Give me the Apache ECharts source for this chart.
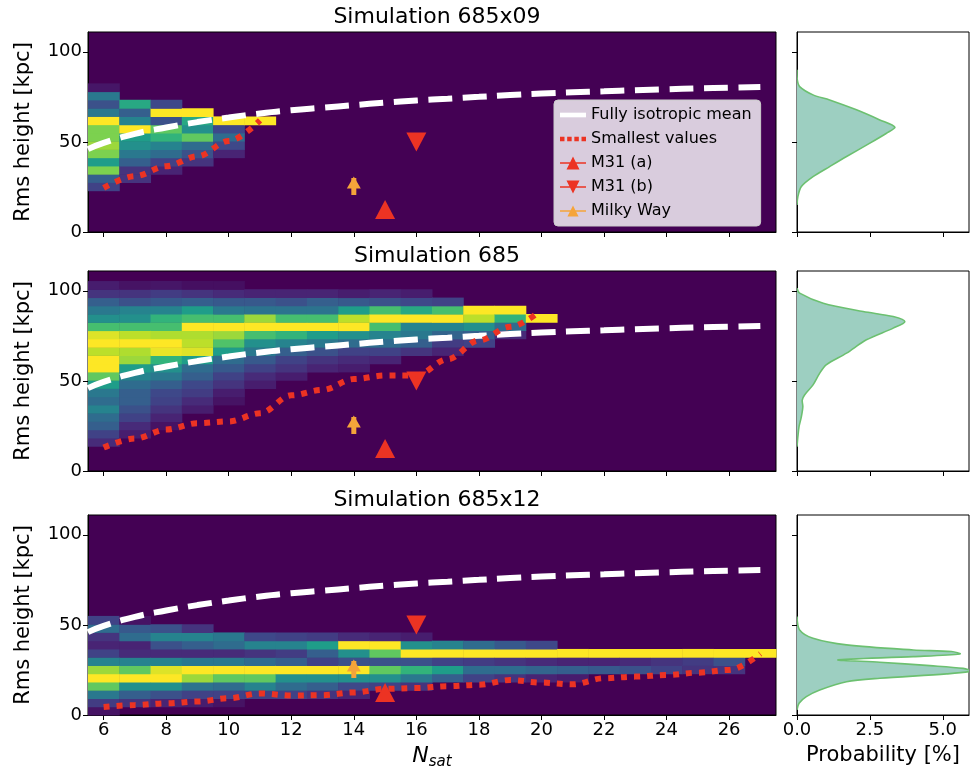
<!DOCTYPE html>
<html>
<head>
<meta charset="utf-8">
<script src="https://cdn.jsdelivr.net/npm/echarts@6/dist/echarts.min.js"></script>
<style>
  html, body { margin: 0; padding: 0; background: #fff; }
  #chart { width: 972px; height: 776px; }
</style>
</head>
<body>
<div id="chart"></div>
<script>
// ---- data ----
const titles = ['Simulation 685x09', 'Simulation 685', 'Simulation 685x12']
const nSatTicks = [6, 8, 10, 12, 14, 16, 18, 20, 22, 24, 26]
const heightTicks = [0, 50, 100]
const probTicks = [0, 2.5, 5]
const BIN_KPC = 110 / 24   // height bin width of the histograms

// isotropic mean (same curve in every panel)
const isoNSat = [5.5, 6, 7, 8, 9, 10, 11, 12, 13, 14, 15, 16, 17, 18, 19, 20, 21, 22, 23, 24, 25, 26, 27]
const isoMean = [46, 49.5, 54.5, 58, 61, 63.5, 65.8, 67.6, 69, 70.4, 71.8, 73, 74, 75, 76, 76.8, 77.5, 78.1, 78.7, 79.2, 79.7, 80.1, 80.5]

// smallest values per panel
const min1NSat = [6, 7, 8, 9, 10, 11]
const min1H = [24.5, 31, 36.5, 42, 50.5, 62]
const min2NSat = [6, 7, 8, 9, 10, 11, 12, 13, 14, 15, 16, 17, 18, 19, 19.8]
const min2H = [13, 18, 23, 26.5, 27.5, 32, 42, 45, 51, 53, 53, 62, 72.5, 80, 86.7]
const min3NSat = [6, 7, 8, 9, 10, 11, 12, 13, 14, 15, 16, 17, 18, 19, 20, 21, 22, 23, 24, 25, 26, 27]
const min3H = [4.5, 5.5, 6.5, 7.5, 9.3, 12, 10.8, 11, 12.5, 14.5, 15, 16, 16.8, 19.4, 18, 17, 20.4, 21.3, 22.2, 23.5, 25, 34]

// observations
const m31a = [15, 12.5]
const m31b = [16, 50]
const milkyWay = [14, 27.5]
const milkyWayErr = [20.5, 30]

// histogram columns: [N_sat, first bin, fractions from that bin upward]
const heat1 = [
  [6, 5, [0.2, 0.3, 0.8, 0.55, 0.8, 0.85, 0.8, 0.8, 1.0, 0.4, 0.25, 0.4, 0.06]],
  [7, 6, [0.15, 0.15, 0.3, 0.4, 0.5, 0.55, 1.0, 0.45, 0.3, 0.6]],
  [8, 7, [0.1, 0.2, 0.35, 0.45, 0.65, 0.75, 0.25, 1.0, 0.22]],
  [9, 8, [0.15, 0.25, 0.35, 0.75, 0.5, 0.6, 1.0]],
  [10, 9, [0.1, 0.22, 0.35, 0.22, 1.0]],
  [11, 13, [1.0]]
]
const heat2 = [
  [6, 3, [0.12, 0.2, 0.3, 0.35, 0.45, 0.35, 0.4, 0.55, 0.75, 1.0, 1.0, 0.9, 1.0, 0.95, 0.7, 0.5, 0.4, 0.3, 0.15, 0.08]],
  [7, 4, [0.08, 0.12, 0.2, 0.25, 0.3, 0.3, 0.35, 0.45, 0.55, 0.85, 0.88, 1.0, 0.9, 0.7, 0.5, 0.45, 0.25, 0.15, 0.05]],
  [8, 5, [0.05, 0.1, 0.15, 0.2, 0.22, 0.3, 0.4, 0.5, 0.65, 0.97, 1.0, 0.88, 0.7, 0.65, 0.45, 0.28, 0.18, 0.06]],
  [9, 7, [0.08, 0.12, 0.18, 0.22, 0.3, 0.35, 0.55, 0.95, 0.9, 0.88, 1.0, 0.7, 0.55, 0.3, 0.15, 0.04]],
  [10, 8, [0.05, 0.08, 0.15, 0.2, 0.28, 0.35, 0.55, 0.72, 0.85, 1.0, 0.7, 0.4, 0.28, 0.12, 0.04]],
  [11, 10, [0.08, 0.12, 0.2, 0.28, 0.4, 0.5, 0.7, 1.0, 0.85, 0.38, 0.28, 0.1]],
  [12, 11, [0.08, 0.15, 0.2, 0.3, 0.45, 0.65, 1.0, 0.7, 0.38, 0.25, 0.1]],
  [13, 12, [0.1, 0.15, 0.25, 0.4, 0.55, 1.0, 0.7, 0.38, 0.3, 0.1]],
  [14, 12, [0.08, 0.12, 0.2, 0.35, 0.5, 1.0, 0.9, 0.55, 0.28, 0.08]],
  [15, 13, [0.1, 0.2, 0.35, 0.45, 0.7, 1.0, 0.7, 0.25, 0.1]],
  [16, 14, [0.15, 0.3, 0.4, 0.45, 1.0, 0.6, 0.22, 0.08]],
  [17, 14, [0.1, 0.18, 0.32, 0.45, 1.0, 0.7, 0.2]],
  [18, 15, [0.2, 0.3, 0.5, 0.9, 1.0]],
  [19, 16, [0.12, 0.35, 0.65, 1.0]],
  [20, 18, [1.0]]
]
const heat3 = [
  [6, 0, [0.05, 0.18, 0.4, 0.75, 1.0, 0.85, 0.45, 0.2, 0.1, 0.15, 0.35, 0.2]],
  [7, 1, [0.15, 0.3, 0.5, 1.0, 0.75, 0.45, 0.12, 0.1, 0.35, 0.28, 0.05]],
  [8, 1, [0.1, 0.25, 0.5, 1.0, 0.95, 0.45, 0.12, 0.25, 0.45, 0.25]],
  [9, 1, [0.08, 0.2, 0.38, 0.85, 1.0, 0.4, 0.12, 0.3, 0.45, 0.15]],
  [10, 1, [0.05, 0.2, 0.35, 0.75, 1.0, 0.4, 0.12, 0.35, 0.4]],
  [11, 2, [0.2, 0.45, 0.75, 1.0, 0.35, 0.15, 0.45, 0.22]],
  [12, 2, [0.2, 0.35, 0.5, 1.0, 0.3, 0.18, 0.45, 0.2]],
  [13, 2, [0.15, 0.3, 0.5, 1.0, 0.2, 0.3, 0.55, 0.18]],
  [14, 2, [0.1, 0.22, 0.5, 1.0, 0.25, 0.5, 1.0, 0.12]],
  [15, 3, [0.2, 0.5, 0.75, 0.25, 0.75, 1.0, 0.1]],
  [16, 3, [0.15, 0.4, 0.65, 0.25, 1.0, 0.5, 0.08]],
  [17, 4, [0.3, 0.55, 0.2, 1.0, 0.45]],
  [18, 4, [0.2, 0.35, 0.18, 1.0, 0.35]],
  [19, 4, [0.15, 0.35, 0.15, 1.0, 0.28]],
  [20, 4, [0.1, 0.32, 0.12, 1.0, 0.22]],
  [21, 4, [0.08, 0.3, 0.1, 1.0]],
  [22, 5, [0.28, 0.1, 1.0]],
  [23, 5, [0.25, 0.12, 1.0]],
  [24, 5, [0.2, 0.15, 1.0]],
  [25, 5, [0.15, 0.18, 1.0]],
  [26, 5, [0.15, 0.25, 1.0]],
  [27, 7, [1.0]]
]

// marginal probability densities (height, probability %)
const kde1Height = [15, 19.6, 25.2, 30.7, 36.3, 41.9, 49.3, 54.8, 58.1, 62.2, 67.8, 73.3, 76.1, 80.7, 84.4, 90]
const kde1Prob = [0, 0.03, 0.15, 0.55, 1.12, 1.7, 2.5, 3.07, 3.36, 2.84, 2.04, 1.12, 0.55, 0.09, 0.01, 0]
const kde2Height = [13.5, 19, 24.6, 30.2, 35.7, 39.4, 42.2, 47.8, 54.3, 58.9, 65.4, 72.8, 79.3, 82.9, 85.7, 88.5, 93.1, 98.7, 101.5]
const kde2Prob = [0, 0.03, 0.07, 0.15, 0.2, 0.18, 0.26, 0.55, 0.78, 1.0, 1.7, 2.38, 3.3, 3.7, 3.3, 2.27, 0.9, 0.09, 0]
const kde3Height = [2.8, 6.5, 10.2, 13.9, 18.5, 20.4, 22.8, 24.4, 25.9, 27.4, 29.3, 30.6, 32.4, 33.9, 35.2, 36.1, 38.9, 42.6, 47.2, 54.6]
const kde3Prob = [0, 0.07, 0.32, 0.78, 1.7, 2.84, 5.13, 6.0, 5.7, 4.56, 2.84, 1.41, 3.99, 5.59, 5.3, 3.99, 1.7, 0.55, 0.09, 0]

// ---- styling ----
const FONT = 'DejaVu Sans'
const RED = '#ec3323'
const ORANGE = '#f5a43a'
const viridis = ['#440154', '#482878', '#3e4989', '#31688e', '#26828e', '#1f9e89', '#35b779', '#6ece58', '#b5de2b', '#fde725']
const gridTops = [32, 271, 515]
const heats = [heat1, heat2, heat3]
const mins = [[min1NSat, min1H], [min2NSat, min2H], [min3NSat, min3H]]
const kdes = [[kde1Prob, kde1Height], [kde2Prob, kde2Height], [kde3Prob, kde3Height]]

const cellsOf = (cols) => {
  const out = []
  cols.forEach(([x, firstBin, vals]) => vals.forEach((v, i) => out.push([x, firstBin + i, v])))
  return out
}
const zip = (xs, ys) => xs.map((x, i) => [x, ys[i]])

//one histogram cell, edges taken from the axes
const renderCell = (params, api) => {
  const x = api.value(0), bin = api.value(1)
  const lo = api.coord([x - 0.5, bin * BIN_KPC])
  const hi = api.coord([x + 0.5, (bin + 1) * BIN_KPC])
  return {
    type: 'rect',
    shape: { x: lo[0], y: hi[1], width: hi[0] - lo[0] + 0.5, height: lo[1] - hi[1] + 0.5 },
    style: { fill: api.visual('color') }
  }
}

//filled density drawn sideways towards prob = 0
const kdeRenderer = (probs, heights) => (params, api) => {
  if (params.dataIndex !== 0) return null
  const pts = heights.map((h, i) => api.coord([probs[i], h]))
  const box = [pts[0], pts[0]]
  return {
    type: 'group',
    children: [
      { type: 'polygon', shape: { points: pts, smooth: 0.3, smoothConstraint: box }, style: { fill: '#9dcfc1' } },
      { type: 'polyline', shape: { points: pts, smooth: 0.3, smoothConstraint: box }, style: { stroke: '#6cc070', lineWidth: 1.6, fill: null } }
    ]
  }
}

const grids = []
const xAxes = []
const yAxes = []
const series = []
const heatIdx = []

gridTops.forEach((top) => {
  grids.push({ left: 88, top, width: 688, height: 200, show: true, backgroundColor: '#440154', borderColor: '#000', borderWidth: 1 })
})
gridTops.forEach((top) => {
  grids.push({ left: 797, top, width: 172, height: 200, show: true, backgroundColor: '#fff', borderColor: '#000', borderWidth: 1 })
})

const tickStyle = { show: true, length: 5, lineStyle: { color: '#000' } }
gridTops.forEach((top, i) => {
  xAxes.push({
    gridIndex: i, type: 'value', min: 5.5, max: 27.5,
    name: i === 2 ? '{n|N}{s|sat}' : '', nameLocation: 'middle', nameGap: 28,
    nameTextStyle: {
      color: '#000',
      rich: {
        n: { fontSize: 22, fontStyle: 'italic', fontFamily: FONT, color: '#000' },
        s: { fontSize: 15, fontStyle: 'italic', fontFamily: FONT, color: '#000', padding: [12, 0, 0, 0] }
      }
    },
    axisLine: { show: true, lineStyle: { color: '#000' } },
    axisTick: { ...tickStyle, customValues: nSatTicks },
    axisLabel: { show: i === 2, customValues: nSatTicks, fontSize: 18, color: '#000', margin: 6, fontFamily: FONT },
    splitLine: { show: false }
  })
  yAxes.push({
    gridIndex: i, type: 'value', min: 0, max: 111,
    name: 'Rms height [kpc]', nameLocation: 'middle', nameGap: 54,
    nameTextStyle: { fontSize: 21, color: '#000', fontFamily: FONT },
    axisLine: { show: true, lineStyle: { color: '#000' } },
    axisTick: { ...tickStyle, customValues: heightTicks },
    axisLabel: { customValues: heightTicks, fontSize: 18, color: '#000', margin: 6, fontFamily: FONT },
    splitLine: { show: false }
  })
})
gridTops.forEach((top, i) => {
  xAxes.push({
    gridIndex: 3 + i, type: 'value', min: 0, max: 5.9,
    name: i === 2 ? 'Probability [%]' : '', nameLocation: 'middle', nameGap: 30,
    nameTextStyle: { fontSize: 21, color: '#000', fontFamily: FONT },
    axisLine: { show: true, lineStyle: { color: '#000' } },
    axisTick: { ...tickStyle, customValues: probTicks },
    axisLabel: { show: i === 2, customValues: probTicks, formatter: (v) => v.toFixed(1), fontSize: 18, color: '#000', margin: 6, fontFamily: FONT },
    splitLine: { show: false }
  })
  yAxes.push({
    gridIndex: 3 + i, type: 'value', min: 0, max: 111,
    axisLine: { show: true, lineStyle: { color: '#000' } },
    axisTick: { ...tickStyle, customValues: heightTicks },
    axisLabel: { show: false },
    splitLine: { show: false }
  })
})

gridTops.forEach((top, i) => {
  const ax = { xAxisIndex: i, yAxisIndex: i }
  heatIdx.push(series.length)
  series.push({ name: 'hist' + i, type: 'custom', ...ax, renderItem: renderCell, data: cellsOf(heats[i]), silent: true })
  series.push({
    name: 'Fully isotropic mean', type: 'line', ...ax, data: zip(isoNSat, isoMean),
    smooth: true, symbol: 'none', color: '#fff',
    lineStyle: { color: '#fff', width: 6, type: [24, 10.5], cap: 'butt' }
  })
  series.push({
    name: 'Smallest values', type: 'line', ...ax, data: zip(mins[i][0], mins[i][1]),
    smooth: 0.35, smoothMonotone: 'x', symbol: 'none', color: RED,
    lineStyle: { color: RED, width: 6, type: [6, 7], cap: 'butt' }
  })
  series.push({
    name: 'Milky Way', type: 'line', ...ax, symbol: 'none', color: ORANGE,
    data: [[milkyWay[0], milkyWayErr[0]], [milkyWay[0], milkyWayErr[1]]],
    lineStyle: { color: ORANGE, width: 5 }
  })
  series.push({
    name: 'Milky Way', type: 'scatter', ...ax, symbol: 'triangle', symbolSize: [14, 12],
    itemStyle: { color: ORANGE, opacity: 1 }, data: [milkyWay]
  })
  series.push({
    name: 'M31 (a)', type: 'scatter', ...ax, symbol: 'triangle', symbolSize: [20, 19],
    itemStyle: { color: RED, opacity: 1 }, data: [m31a]
  })
  series.push({
    name: 'M31 (b)', type: 'scatter', ...ax, symbol: 'triangle', symbolRotate: 180, symbolSize: [20, 19],
    itemStyle: { color: RED, opacity: 1 }, data: [m31b]
  })
})

gridTops.forEach((top, i) => {
  series.push({
    name: 'density' + i, type: 'custom', xAxisIndex: 3 + i, yAxisIndex: 3 + i, clip: true, silent: true,
    renderItem: kdeRenderer(kdes[i][0], kdes[i][1]), data: zip(kdes[i][0], kdes[i][1])
  })
})

const chart = echarts.init(document.getElementById('chart'))
chart.setOption({
  animation: false,
  textStyle: { fontFamily: FONT },
  title: titles.map((t, i) => ({
    text: t, left: 432, textAlign: 'center', top: gridTops[i] - 31,
    textStyle: { fontSize: 22, fontWeight: 'normal', color: '#000', fontFamily: FONT }
  })),
  legend: {
    left: 554, top: 100, orient: 'vertical',
    itemWidth: 26, itemHeight: 14, itemGap: 8, padding: [7, 9, 7, 6],
    backgroundColor: 'rgba(255,255,255,0.8)', borderColor: '#cccccc', borderWidth: 1, borderRadius: 4,
    textStyle: { fontSize: 16, color: '#000', fontFamily: FONT },
    selectedMode: false,
    data: [
      { name: 'Fully isotropic mean', icon: 'path://M0,0H28V5H0Z', itemStyle: { color: '#fff', borderWidth: 0, opacity: 1 } },
      { name: 'Smallest values', icon: 'path://M0,0H5V5H0Z M8,0H13V5H8Z M16,0H21V5H16Z M24,0H29V5H24Z', itemStyle: { color: RED, borderWidth: 0, opacity: 1 } },
      { name: 'M31 (a)', icon: 'path://M0,9.3H28V10.7H0Z M7,17L14,3L21,17Z', itemStyle: { color: RED, borderWidth: 0, opacity: 1 } },
      { name: 'M31 (b)', icon: 'path://M0,9.3H28V10.7H0Z M7,3L21,3L14,17Z', itemStyle: { color: RED, borderWidth: 0, opacity: 1 } },
      { name: 'Milky Way', icon: 'path://M0,9.3H28V10.7H0Z M8,16L14,4L20,16Z', itemStyle: { color: ORANGE, borderWidth: 0, opacity: 1 } }
    ]
  },
  visualMap: {
    type: 'continuous', show: false, min: 0, max: 1, dimension: 2,
    seriesIndex: heatIdx, inRange: { color: viridis }
  },
  grid: grids,
  xAxis: xAxes,
  yAxis: yAxes,
  series
})
</script>
</body>
</html>
